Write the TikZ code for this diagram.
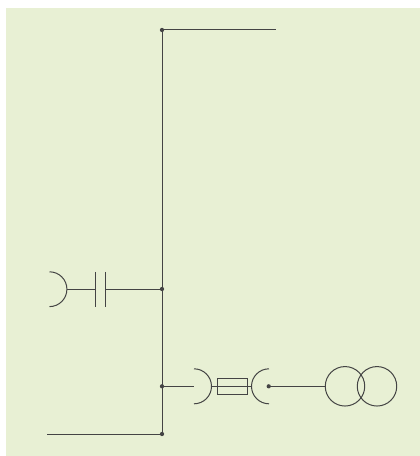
\documentclass[tikz,border=0pt]{standalone}
\usepackage{amsmath}
\usepackage{tikz}
\usetikzlibrary{arrows,positioning}
\definecolor{panel}{HTML}{E8F0D4}
\definecolor{wire}{HTML}{444444}

\begin{document}
\begin{tikzpicture}[x=0.75pt,y=-0.75pt,line width=0.75pt,draw=wire]
\tikzstyle{junction}=[circle,fill=wire,draw=none,inner sep=0pt,minimum size=3.2pt,outer sep=0pt]
\tikzstyle{winding}=[circle,draw=wire,inner sep=0pt,outer sep=0pt,minimum size=29.6pt]
\tikzstyle{fuse}=[rectangle,draw=wire,inner sep=0pt,outer sep=0pt,minimum width=22.3pt,minimum height=11.7pt]
\useasboundingbox (0,0) rectangle (420,456);
\fill[panel] (6,8) rectangle (420,456);
% bus
\node[junction] (top) at (162,30) {};
\node[junction] (capjoin) at (162,289) {};
\node[junction] (fusejoin) at (162,386.3) {};
\node[junction] (bottom) at (162,434) {};
\coordinate (topend) at (276,30);
\coordinate (bottomend) at (47,434);
\draw[wire] (top.center) -- (bottom.center);
\draw[wire] (top.center) -- (topend);
\draw[wire] (bottom.center) -- (bottomend);
% capacitor branch
\coordinate (plateR) at (105,289);
\coordinate (plateL) at (95.3,289);
\coordinate (capplug) at (67.3,289);
\draw[wire] (capjoin.center) -- (plateR);
\draw[wire] (plateL) -- (capplug);
\draw[wire] (105,271.8) -- (105,306.6);
\draw[wire] (95.3,271.8) -- (95.3,306.6);
\draw[wire] (49.5,271.8) arc[start angle=-90,end angle=90,radius=17.4];
% fuse branch
\node[fuse] (fusebox) at (232.2,386.3) {};
\coordinate (plugA) at (193.7,386.3);
\coordinate (plugB) at (211.7,386.3);
\coordinate (plugC) at (251,386.3);
\node[junction] (plugD) at (268.7,386.3) {};
\node[winding] (primary) at (345,386.3) {};
\node[winding] (secondary) at (377,386.3) {};
\draw[wire] (fusejoin.center) -- (plugA);
\draw[wire] (plugB) -- (plugC);
\draw[wire] (194,368.8) arc[start angle=-90,end angle=90,radius=17.5];
\draw[wire] (269,368.8) arc[start angle=-90,end angle=-270,radius=17.5];
\draw[wire] (plugD.center) -- (primary.west);
\end{tikzpicture}
\end{document}
